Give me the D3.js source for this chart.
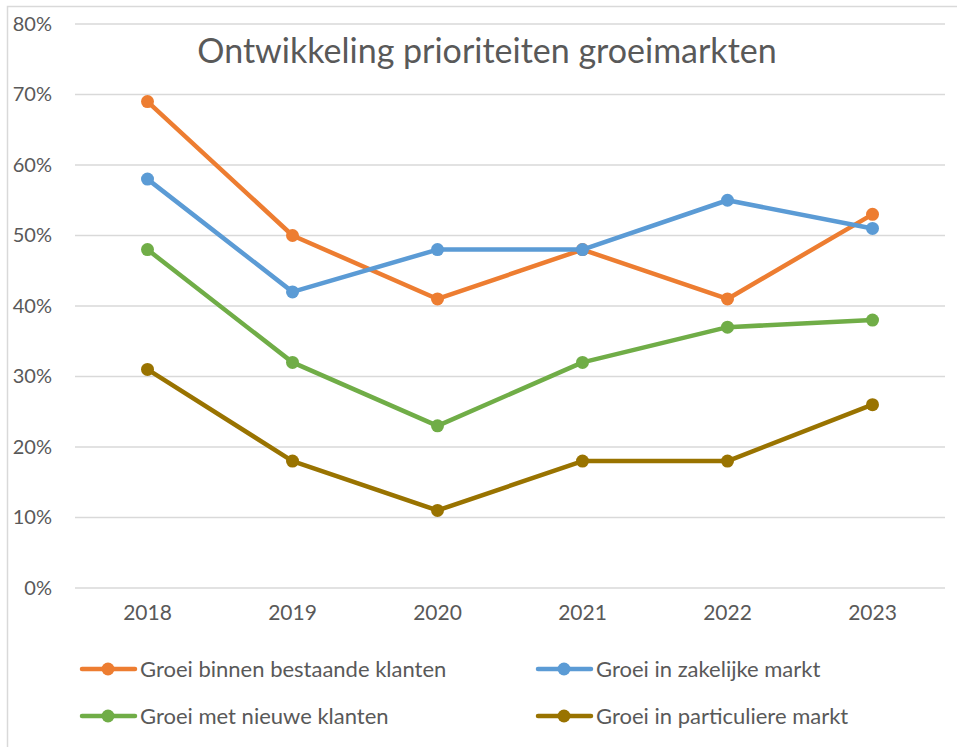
<!DOCTYPE html>
<html><head><meta charset="utf-8">
<script src="https://cdn.jsdelivr.net/npm/d3@7"></script>
<style>body{margin:0;background:#fff;} svg{display:block;}</style>
</head><body>
<svg id="c" width="957" height="747"></svg>
<script>
const years = ["2018","2019","2020","2021","2022","2023"];
const bestaande = [69, 50, 41, 48, 41, 53];
const zakelijk = [58, 42, 48, 48, 55, 51];
const nieuwe = [48, 32, 23, 32, 37, 38];
const particulier = [31, 18, 11, 18, 18, 26];
const yTicks = [0,10,20,30,40,50,60,70,80];
const title = "Ontwikkeling prioriteiten groeimarkten";

const series = [
  {name:"Groei binnen bestaande klanten", values:bestaande, color:"#ED7D31"},
  {name:"Groei in zakelijke markt", values:zakelijk, color:"#5B9BD5"},
  {name:"Groei met nieuwe klanten", values:nieuwe, color:"#70AD47"},
  {name:"Groei in particuliere markt", values:particulier, color:"#997300"}
];

const font = "Lato, 'Open Sans', sans-serif";
const svg = d3.select("#c");
svg.append("rect").attr("x",7.5).attr("y",6.5).attr("width",1000).attr("height",1000)
  .attr("fill","#fff").attr("stroke","#d9d9d9").attr("stroke-width",1.5);

const x = d3.scaleBand().domain(years).range([75,945]);
const y = d3.scaleLinear().domain([0,80]).range([588,24]);

svg.append("g").selectAll("line").data(yTicks).join("line")
  .attr("x1",75).attr("x2",945).attr("y1",d=>y(d)).attr("y2",d=>y(d))
  .attr("stroke","#d9d9d9").attr("stroke-width",1.3);

const yAxis = svg.append("g").attr("transform","translate(60,0)")
  .call(d3.axisLeft(y).tickValues(yTicks).tickFormat(d=>d+"%").tickSize(0).tickPadding(8));
yAxis.select(".domain").remove();
yAxis.selectAll("text").attr("font-family",font).attr("font-size",20).attr("fill","#595959");

const xAxis = svg.append("g").attr("transform","translate(0,597)")
  .call(d3.axisBottom(x).tickSize(0).tickPadding(8));
xAxis.select(".domain").remove();
xAxis.selectAll("text").attr("font-family",font).attr("font-size",21).attr("fill","#595959");

svg.append("text").attr("x",487).attr("y",63).attr("text-anchor","middle")
  .attr("font-family",font).attr("font-size",34).attr("fill","#595959").text(title);

const line = d3.line().x((d,i)=>x(years[i])+x.bandwidth()/2).y(d=>y(d));
series.forEach(s=>{
  svg.append("path").attr("d",line(s.values)).attr("fill","none")
    .attr("stroke",s.color).attr("stroke-width",4.5).attr("stroke-linejoin","round").attr("stroke-linecap","round");
  svg.append("g").selectAll("circle").data(s.values).join("circle")
    .attr("cx",(d,i)=>x(years[i])+x.bandwidth()/2).attr("cy",d=>y(d)).attr("r",6.5).attr("fill",s.color);
});

const legPos = [[80,669],[536,669],[80,716],[536,716]];
series.forEach((s,i)=>{
  const [lx,ly] = legPos[i];
  const g = svg.append("g").attr("transform",`translate(${lx},${ly})`);
  g.append("line").attr("x1",2).attr("x2",55).attr("stroke",s.color).attr("stroke-width",4.5).attr("stroke-linecap","round");
  g.append("circle").attr("cx",28).attr("r",6.5).attr("fill",s.color);
  g.append("text").attr("x",60).attr("y",8).attr("font-family",font).attr("font-size",22).attr("fill","#595959").text(s.name);
});
</script>
</body></html>
